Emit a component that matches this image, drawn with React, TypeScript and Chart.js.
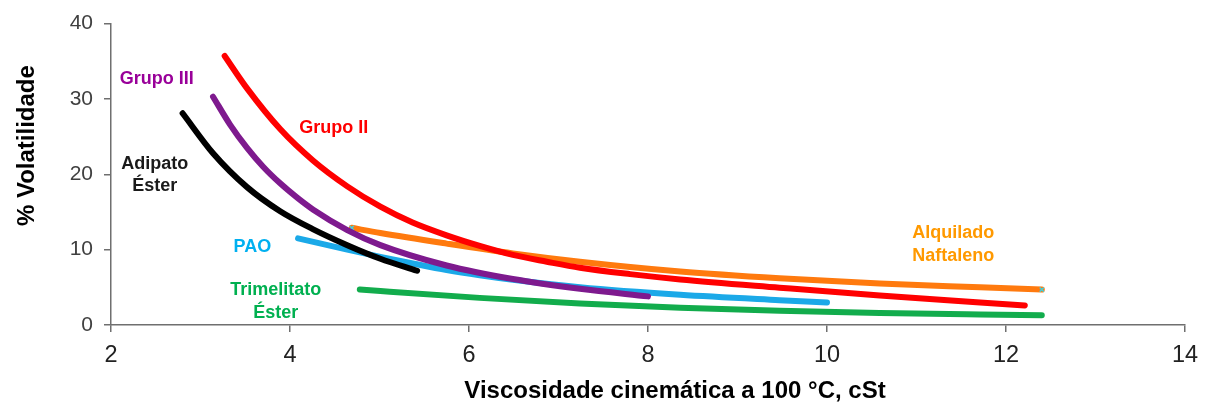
import React, { useEffect, useRef } from "react";
import { Chart, registerables } from "chart.js";

Chart.register(...registerables);

// ---- Data ----
const grupoIIX = [3.27, 3.52, 3.89, 4.26, 4.64, 5.01, 5.37, 5.75, 6.12, 6.49, 6.87, 7.24, 7.8, 8.36, 9.47, 10.59, 11.71, 12.21];
const grupoIIY = [35.7, 31.4, 26.0, 21.8, 18.4, 15.7, 13.6, 11.9, 10.5, 9.3, 8.4, 7.6, 6.75, 6.05, 4.95, 3.9, 3.0, 2.6];

const grupoIIIX = [3.14, 3.33, 3.52, 3.7, 3.89, 4.08, 4.26, 4.64, 5.01, 5.75, 6.49, 7.24, 8.0];
const grupoIIIY = [30.3, 26.6, 23.5, 21.0, 18.8, 16.9, 15.3, 12.6, 10.6, 7.9, 6.1, 4.8, 3.8];

const adipatoX = [2.8, 3.14, 3.52, 3.89, 4.26, 4.64, 5.01, 5.42];
const adipatoY = [28.1, 22.8, 18.3, 15.1, 12.7, 10.6, 8.8, 7.2];

const paoX = [4.09, 4.64, 5.01, 5.4, 5.75, 6.12, 6.49, 7.24, 8.36, 9.47, 10.0];
const paoY = [11.5, 10.0, 9.05, 8.1, 7.3, 6.6, 6.0, 5.0, 4.0, 3.3, 3.0];

const alquiladoX = [4.69, 5.01, 5.75, 6.49, 7.24, 8.36, 9.47, 10.59, 11.71, 12.4];
const alquiladoY = [12.9, 12.2, 10.8, 9.5, 8.4, 7.1, 6.2, 5.5, 5.0, 4.7];

const trimelitatoX = [4.78, 5.01, 6.12, 7.24, 8.36, 9.47, 10.59, 11.71, 12.4];
const trimelitatoY = [4.7, 4.5, 3.6, 2.85, 2.3, 1.9, 1.6, 1.4, 1.3];

const xTicks = [2, 4, 6, 8, 10, 12, 14];
const yTicks = [0, 10, 20, 30, 40];

const xTitle = "Viscosidade cinemática a 100 °C, cSt";
const yTitle = "% Volatilidade";

const seriesLabels = [
  { lines: ["Grupo III"], x: 2.51, y: 32.8, color: "#990099" },
  { lines: ["Grupo II"], x: 4.49, y: 26.4, color: "#FF0000" },
  { lines: ["Adipato", "Éster"], x: 2.49, y: 20.1, color: "#1a1a1a" },
  { lines: ["PAO"], x: 3.58, y: 10.55, color: "#00B0F0" },
  { lines: ["Trimelitato", "Éster"], x: 3.84, y: 3.3, color: "#00B050" },
  { lines: ["Alquilado", "Naftaleno"], x: 11.41, y: 10.85, color: "#FF9900" },
];

const FONT = '"Liberation Sans", Arial, Helvetica, sans-serif';

const toPoints = (xs: number[], ys: number[]) => xs.map((x, i) => ({ x, y: ys[i] }));

const annotationPlugin = {
  id: "seriesAnnotations",
  afterDatasetsDraw(chart: any) {
    const { ctx, scales } = chart;
    const xs = scales.x;
    const ys = scales.y;
    ctx.save();
    const size = 18;
    const lineH = 22.5;
    ctx.font = `bold ${size}px ${FONT}`;
    ctx.textAlign = "center";
    ctx.textBaseline = "alphabetic";
    for (const l of seriesLabels) {
      const cx = xs.getPixelForValue(l.x);
      const cy = ys.getPixelForValue(l.y);
      const n = l.lines.length;
      ctx.fillStyle = l.color;
      l.lines.forEach((t, i) => {
        const mid = cy + (i - (n - 1) / 2) * lineH;
        ctx.fillText(t, cx, mid + (size * 0.716) / 2);
      });
    }
    ctx.restore();
  },
  afterDraw(chart: any) {
    const { ctx, chartArea } = chart;
    ctx.save();
    ctx.fillStyle = "#000";
    ctx.font = `bold 24px ${FONT}`;
    ctx.textAlign = "center";
    ctx.textBaseline = "alphabetic";
    // x title
    ctx.fillText(xTitle, (chartArea.left + chartArea.right) / 2 + 27, chartArea.bottom + 73);
    // y title
    ctx.translate(34, chartArea.top + 122);
    ctx.rotate(-Math.PI / 2);
    ctx.fillText(yTitle, 0, 0);
    ctx.restore();
  },
};

export default function App() {
  const canvasRef = useRef<HTMLCanvasElement | null>(null);

  useEffect(() => {
    document.body.style.margin = "0";
    const canvas = canvasRef.current;
    if (!canvas) return;
    const mk = (label: string, xs: number[], ys: number[], color: string, order: number, extra: any = {}) => ({
      label,
      data: toPoints(xs, ys),
      borderColor: color,
      backgroundColor: color,
      borderWidth: 6,
      borderCapStyle: "round",
      borderJoinStyle: "round",
      pointRadius: 0,
      cubicInterpolationMode: "monotone",
      fill: false,
      order,
      ...extra,
    });
    const chart = new Chart(canvas, {
      type: "line",
      data: {
        datasets: [
          mk("Grupo II", grupoIIX, grupoIIY, "#FF0000", 0),
          mk("Grupo III", grupoIIIX, grupoIIIY, "#7E1A8E", 1),
          mk("Adipato Éster", adipatoX, adipatoY, "#000000", 2),
          mk("PAO", paoX, paoY, "#1BA9E8", 3),
          mk("Alquilado Naftaleno", alquiladoX, alquiladoY, "#FF7A0E", 4, {
            pointRadius: alquiladoX.map((_, i) => (i === 0 || i === alquiladoX.length - 1 ? 3 : 0)),
            pointStyle: "crossRot",
            pointBorderColor: "#40D0E0",
            pointBorderWidth: 1.5,
          }),
          mk("Trimelitato Éster", trimelitatoX, trimelitatoY, "#12AC4C", 5),
        ],
      },
      options: {
        animation: false,
        responsive: true,
        maintainAspectRatio: false,
        layout: { padding: { top: 19, right: 23, left: 0, bottom: 0 } },
        plugins: {
          legend: { display: false },
          tooltip: { enabled: false },
        },
        scales: {
          x: {
            type: "linear",
            min: 2,
            max: 14,
            afterBuildTicks: (s: any) => {
              s.ticks = xTicks.map((v) => ({ value: v }));
            },
            afterFit: (s: any) => {
              s.height = 80;
            },
            ticks: {
              font: { size: 23.5, family: FONT },
              color: "#222222",
              padding: 9,
              maxRotation: 0,
              autoSkip: false,
            },
            grid: {
              drawOnChartArea: false,
              drawTicks: true,
              tickLength: 7,
              color: "#6f6f6f",
              lineWidth: 1.5,
            },
            border: { color: "#6f6f6f", width: 1.5 },
          },
          y: {
            type: "linear",
            min: 0,
            max: 40,
            afterBuildTicks: (s: any) => {
              s.ticks = yTicks.map((v) => ({ value: v }));
            },
            afterFit: (s: any) => {
              s.width = 111;
            },
            ticks: {
              font: { size: 21, family: FONT },
              color: "#404040",
              padding: 11,
              autoSkip: false,
            },
            grid: {
              drawOnChartArea: false,
              drawTicks: true,
              tickLength: 7,
              color: "#6f6f6f",
              lineWidth: 1.5,
            },
            border: { color: "#6f6f6f", width: 1.5 },
          },
        },
      },
      plugins: [annotationPlugin],
    } as any);
    return () => chart.destroy();
  }, []);

  return (
    <div style={{ width: 1208, height: 405, position: "relative", background: "#fff" }}>
      <canvas ref={canvasRef} />
    </div>
  );
}
